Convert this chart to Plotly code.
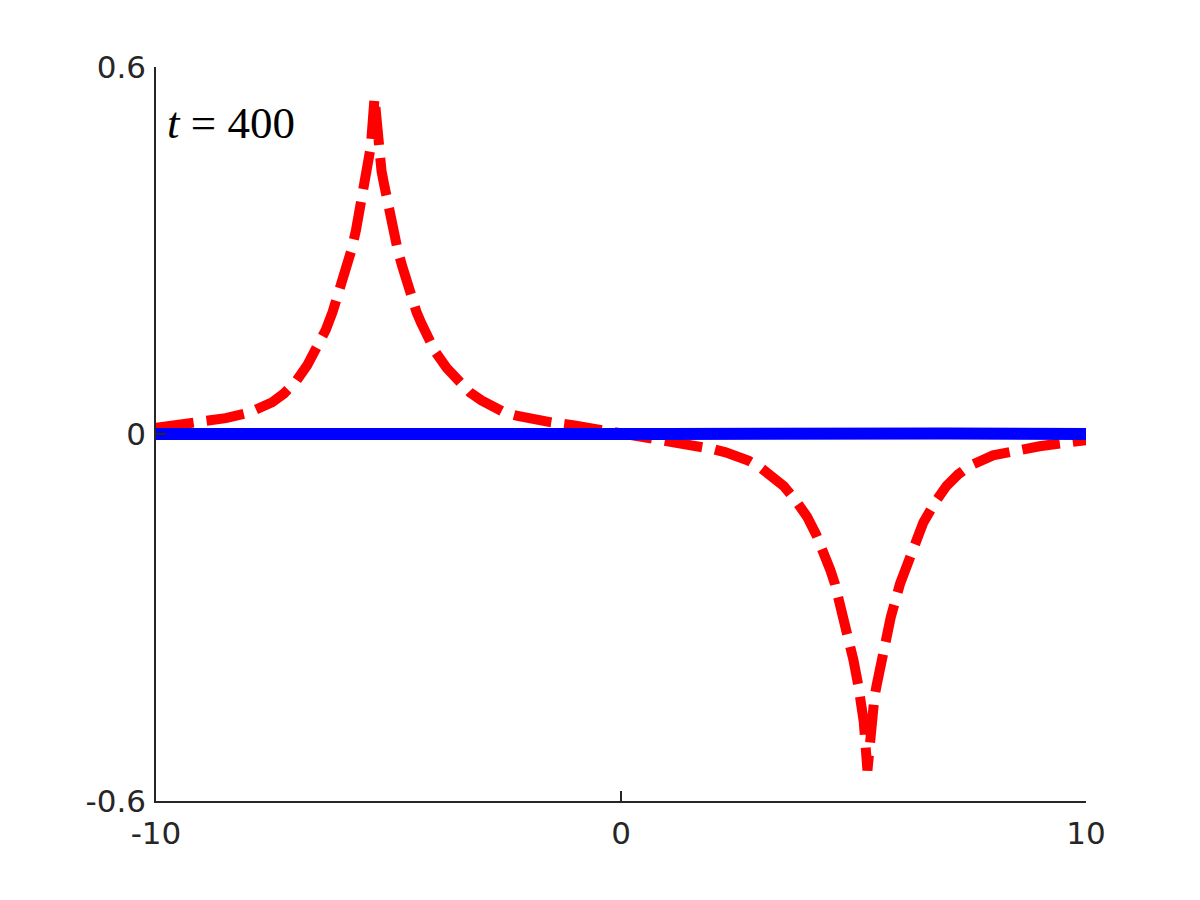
import plotly.graph_objects as go

# Red dashed curve (peakon / antipeakon)
x_red = [-10, -9.5, -9, -8.5, -8, -7.5, -7.25, -7, -6.75, -6.5, -6.35, -6.2, -6.0, -5.8, -5.7,
         -5.6, -5.5, -5.45, -5.38, -5.3,
         -5.22, -5.15, -5.1, -5.0, -4.9, -4.8, -4.7, -4.6, -4.5, -4.4, -4.3, -4.2, -4.0, -3.75,
         -3.5, -3.25, -3.0, -2.75, -2.5, -2.25, -2.0, -1.5, -1.0, -0.5,
         0.0,
         0.5, 1.0, 1.5, 2.0, 2.25, 2.5, 2.75, 3.0, 3.25, 3.5, 3.75, 4.0, 4.2, 4.3, 4.4, 4.5,
         4.6, 4.7, 4.8, 4.9, 5.0, 5.1, 5.15, 5.22,
         5.3, 5.38, 5.45, 5.5, 5.6,
         5.7, 5.8, 6.0, 6.2, 6.35, 6.5, 6.75, 7.0, 7.25, 7.5, 8.0, 8.5, 9.0, 9.5, 10]
y_red = [0.010, 0.015, 0.020, 0.026, 0.035, 0.052, 0.066, 0.085, 0.112, 0.145, 0.170, 0.200, 0.245, 0.300, 0.333,
         0.370, 0.410, 0.430, 0.470, 0.550,
         0.470, 0.430, 0.410, 0.370, 0.333, 0.300, 0.273, 0.245, 0.222, 0.200, 0.182, 0.165, 0.135, 0.108,
         0.085, 0.068, 0.055, 0.044, 0.035, 0.030, 0.025, 0.019, 0.014, 0.008,
         0.0,
         -0.008, -0.014, -0.019, -0.025, -0.030, -0.035, -0.044, -0.055, -0.068, -0.085, -0.108, -0.135, -0.165, -0.182, -0.200, -0.222,
         -0.245, -0.273, -0.300, -0.333, -0.370, -0.410, -0.430, -0.470,
         -0.550, -0.470, -0.430, -0.410, -0.370,
         -0.333, -0.300, -0.245, -0.200, -0.170, -0.145, -0.112, -0.085, -0.066, -0.052, -0.035, -0.026, -0.020, -0.015, -0.010]

# Blue solid curve, nearly zero
x_blue = [-10, -7, -6, -5.3, -4.5, -3, -1, 0, 1, 3, 4.5, 5.3, 6, 7, 10]
y_blue = [0.0, -0.001, -0.002, -0.003, -0.002, -0.001, 0.0, 0.0, 0.0, 0.001, 0.002, 0.003, 0.002, 0.001, 0.0]

x_ticks = [-10, 0, 10]
y_ticks = [-0.6, 0, 0.6]
x_ticktext = ["-10", "0", "10"]
y_ticktext = ["-0.6", "0", "0.6"]
label_text = "<i>t</i> = 400"

axis_color = "#262626"
tick_font = dict(family="DejaVu Sans", size=31, color=axis_color)

fig = go.Figure()
fig.add_trace(go.Scatter(x=x_red, y=y_red, mode="lines",
                         line=dict(color="#ff0000", width=10, dash="38px,13px"),
                         showlegend=False))
fig.add_trace(go.Scatter(x=x_blue, y=y_blue, mode="lines",
                         line=dict(color="#0000ff", width=12),
                         showlegend=False))

fig.update_layout(
    width=1200, height=900,
    margin=dict(l=148, r=122, t=59, b=107),
    paper_bgcolor="white", plot_bgcolor="white",
    xaxis=dict(range=[-10, 10], tickvals=x_ticks, ticktext=x_ticktext,
               showgrid=False, zeroline=False, showline=True, linecolor=axis_color,
               linewidth=1.5, ticks="inside", ticklen=10, tickwidth=1.5,
               tickcolor=axis_color, tickfont=tick_font, mirror=False,
               ticklabelstandoff=4),
    yaxis=dict(range=[-0.6, 0.6], tickvals=y_ticks, ticktext=y_ticktext,
               showgrid=False, zeroline=False, showline=True, linecolor=axis_color,
               linewidth=1.5, ticks="inside", ticklen=10, tickwidth=1.5,
               tickcolor=axis_color, tickfont=tick_font, mirror=False,
               ticklabelstandoff=2),
    annotations=[dict(text=label_text, xref="paper", yref="paper", x=0.01, y=0.961,
                      xanchor="left", yanchor="top", showarrow=False,
                      font=dict(family="Liberation Serif", size=45, color="black"))],
)

fig.write_html("out.html")
